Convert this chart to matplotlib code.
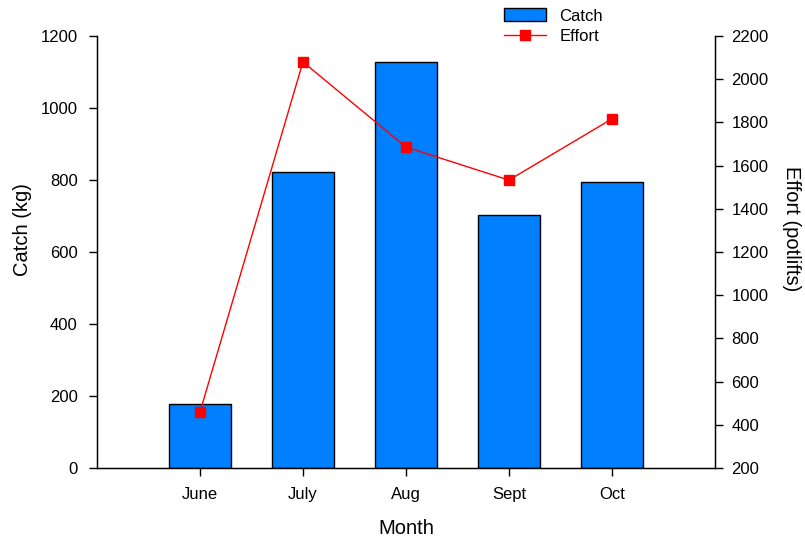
import matplotlib.pyplot as plt
from matplotlib.lines import Line2D
from matplotlib.patches import Patch

plt.rcParams['font.family'] = ['Liberation Sans', 'DejaVu Sans']

months = ['June', 'July', 'Aug', 'Sept', 'Oct']
catch = [178, 822, 1128, 703, 795]
effort = [459, 2080, 1686, 1533, 1816]

fig = plt.figure(figsize=(8.05, 5.4), dpi=100)
ax = fig.add_axes([0.1205, 0.1333, 0.7675, 0.8])
x = list(range(1, len(months) + 1))

ax.bar(x, catch, width=0.6, color='#0080FF', edgecolor='black', linewidth=1, zorder=2)
ax.set_xlim(0, 6)
ax.set_ylim(0, 1200)
ax.set_yticks(range(0, 1201, 200))
ax.set_xticks(x)
ax.set_xticklabels(months)
ax.set_ylabel('Catch (kg)', fontsize=14.5, labelpad=10)
ax.yaxis.set_label_coords(-0.105, 0.553)
ax.set_xlabel('Month', fontsize=14.5, labelpad=12)
ax.spines['top'].set_visible(False)
ax.tick_params(labelsize=12, direction='out', length=6, width=1, pad=8)
for s in ['left', 'bottom']:
    ax.spines[s].set_linewidth(1)

ax2 = ax.twinx()
ax2.plot(x, effort, color='red', linewidth=1, marker='s', markersize=7, zorder=3)
ax2.set_ylim(200, 2200)
ax2.set_yticks(range(200, 2201, 200))
ax2.set_ylabel('Effort (potlifts)', fontsize=14.5, rotation=270, labelpad=22)
ax2.yaxis.set_label_coords(1.14, 0.553)
ax2.spines['top'].set_visible(False)
ax2.spines['right'].set_linewidth(1)
ax2.tick_params(labelsize=12, direction='out', length=6, width=1, pad=6)

# 图例放在图上方
handles = [Patch(facecolor='#0080FF', edgecolor='black', label='Catch'),
           Line2D([], [], color='red', marker='s', markersize=7, linewidth=1, label='Effort')]
fig.legend(handles=handles, loc='upper left', bbox_to_anchor=(0.612, 1.006), frameon=False,
           fontsize=12, handlelength=2.5, handleheight=0.8, labelspacing=0.3, borderaxespad=0.3)

fig.savefig('out.png', dpi=100)
